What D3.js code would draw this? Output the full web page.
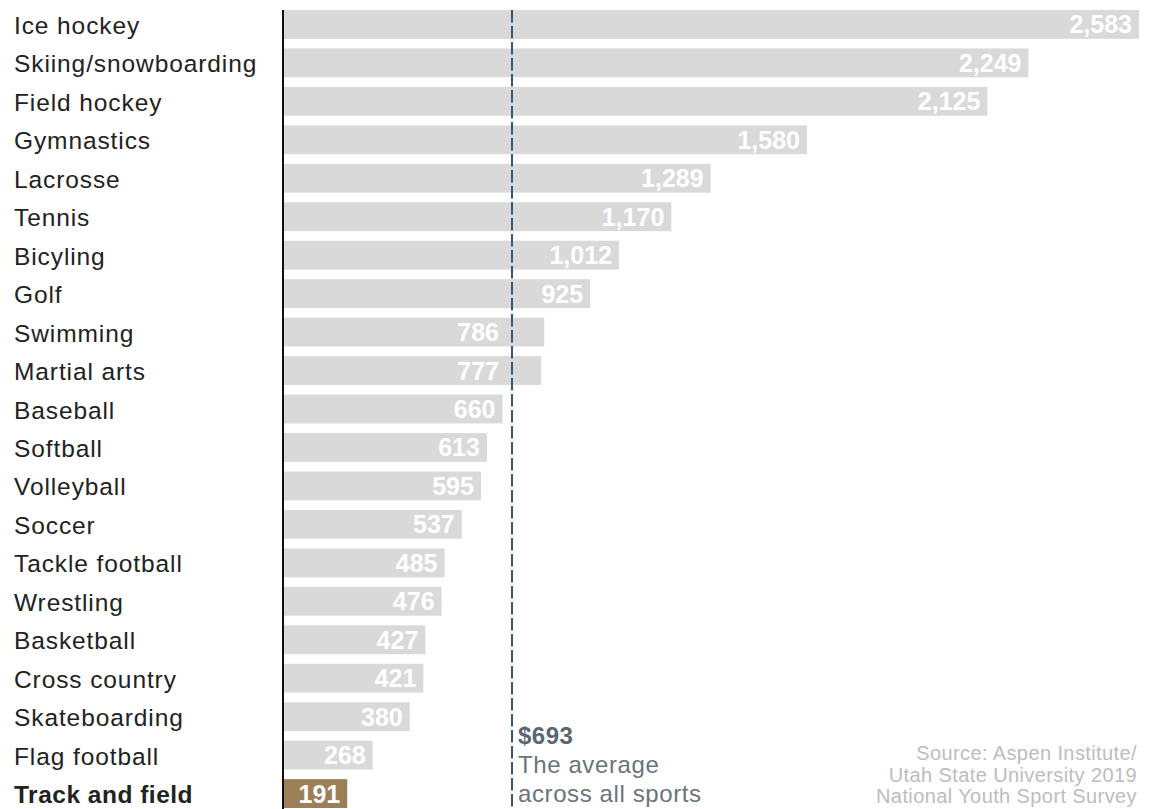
<!DOCTYPE html>
<html>
<head>
<meta charset="utf-8">
<script src="https://cdn.jsdelivr.net/npm/d3@7"></script>
<style>
  body { margin: 0; background: #fff; }
  svg text { font-family: "Liberation Sans", Arial, Helvetica, sans-serif; }
</style>
</head>
<body>
<div id="chart"></div>
<script>
// data
const sports = ["Ice hockey", "Skiing/snowboarding", "Field hockey", "Gymnastics", "Lacrosse",
    "Tennis", "Bicyling", "Golf", "Swimming", "Martial arts", "Baseball", "Softball",
    "Volleyball", "Soccer", "Tackle football", "Wrestling", "Basketball", "Cross country",
    "Skateboarding", "Flag football", "Track and field"];
const costs = [2583, 2249, 2125, 1580, 1289, 1170, 1012, 925, 786, 777, 660, 613,
    595, 537, 485, 476, 427, 421, 380, 268, 191];
const highlight = "Track and field";
const average = 693;
const averageLines = ["$693", "The average", "across all sports"];
const sourceLines = ["Source: Aspen Institute/", "Utah State University 2019", "National Youth Sport Survey"];

const svgWidth = 1152;
const svgHeight = 809;

const margin = { top: 10, left: 284, right: 13, bottom: 1 };

const svg = d3.select("#chart")
    .append("svg")
    .attr("width", svgWidth)
    .attr("height", svgHeight);

const data = sports.map((s, i) => ({ sport: s, cost: costs[i] }));

// scales
const x = d3.scaleLinear()
    .domain([0, d3.max(costs)])
    .range([margin.left, svgWidth - margin.right]);

const y = d3.scaleBand()
    .domain(sports)
    .range([margin.top, 808])
    .paddingInner(0.25)
    .paddingOuter(0);

const ax = Math.round(x(average)) - 1;

// bars
svg.selectAll("rect.bar")
    .data(data)
    .enter()
    .append("rect")
    .attr("class", "bar")
    .attr("x", x(0))
    .attr("y", d => y(d.sport))
    .attr("width", d => x(d.cost) - x(0))
    .attr("height", y.bandwidth())
    .attr("fill", d => d.sport === highlight ? "#9b7f57" : "#d9d9d9");

// values inside the bars, pushed left of the average line when they would cross it
const valueText = svg.selectAll("text.value")
    .data(data)
    .enter()
    .append("text")
    .attr("class", "value")
    .attr("x", d => x(d.cost) - 7)
    .attr("y", d => y(d.sport) + y.bandwidth() / 2 + 9)
    .attr("text-anchor", "end")
    .attr("fill", "#fff")
    .style("font-size", "25px")
    .style("font-weight", "bold")
    .text(d => d3.format(",")(d.cost));

valueText.each(function(d) {
    const w = this.getComputedTextLength();
    const end = x(d.cost) - 7;
    if (end - w < ax + 4 && end > ax - 4) {
        d3.select(this).attr("x", ax - 13);
    }
});

// category labels
svg.selectAll("text.label")
    .data(data)
    .enter()
    .append("text")
    .attr("class", "label")
    .attr("x", 14)
    .attr("y", d => y(d.sport) + y.bandwidth() / 2 + 9.5)
    .attr("fill", "#222")
    .style("font-size", "24.5px")
    .style("letter-spacing", d => d.sport === highlight ? "0.5px" : "0.9px")
    .style("font-weight", d => d.sport === highlight ? "bold" : "normal")
    .text(d => d.sport);

// zero line
svg.append("line")
    .attr("x1", x(0) - 1)
    .attr("x2", x(0) - 1)
    .attr("y1", margin.top)
    .attr("y2", svgHeight)
    .attr("stroke", "#111")
    .attr("stroke-width", 2);

// average line
svg.append("line")
    .attr("x1", ax)
    .attr("x2", ax)
    .attr("y1", margin.top)
    .attr("y2", svgHeight)
    .attr("stroke", "#3a566e")
    .attr("stroke-width", 2)
    .attr("stroke-dasharray", "12.5,3.5");

const note = svg.append("g");
note.selectAll("text")
    .data(averageLines)
    .enter()
    .append("text")
    .attr("x", ax + 6)
    .attr("y", (d, i) => 744 + i * 29)
    .attr("fill", (d, i) => i === 0 ? "#5b666e" : "#6a747b")
    .style("font-size", "24px")
    .style("font-weight", (d, i) => i === 0 ? "bold" : "normal")
    .style("letter-spacing", (d, i) => i === 0 ? "0.5px" : "0.6px")
    .text(d => d);

// source
svg.append("g").selectAll("text")
    .data(sourceLines)
    .enter()
    .append("text")
    .attr("x", 1137)
    .attr("y", (d, i) => 760 + i * 21.7)
    .attr("text-anchor", "end")
    .attr("fill", "#bdbdbd")
    .style("font-size", "20px")
    .style("letter-spacing", "0.4px")
    .text(d => d);
</script>
</body>
</html>
